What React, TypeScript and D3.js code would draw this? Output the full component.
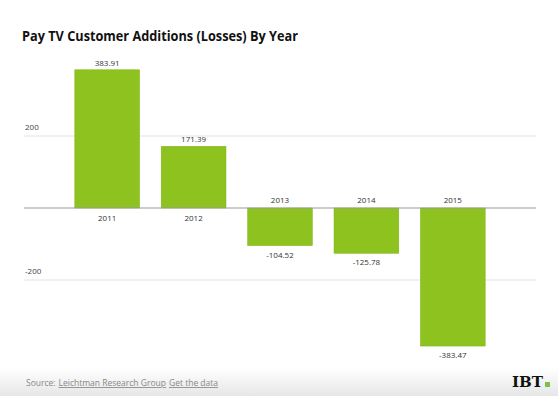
import React, { useRef, useEffect } from 'react';
import { select, scaleLinear, scaleBand } from "d3";

const years = ['2011', '2012', '2013', '2014', '2015'];
const additions = [383.91, 171.39, -104.52, -125.78, -383.47];
const yTicks = [200, -200];
const sourceParts = [
  { text: 'Source:', link: false },
  { text: 'Leichtman Research Group', link: true },
  { text: 'Get the data', link: true },
];

function App() {
  const rootRef = useRef<SVGSVGElement>(null);
  const width = 558;
  const height = 396;
  const margin = { left: 24, right: 22 };

  useEffect(() => {
    const root = select(rootRef.current);
    root.selectAll('*').remove();

    const defs = root.append('defs');
    const grad = defs.append('linearGradient')
      .attr('id', 'footerGrad')
      .attr('x1', 0).attr('y1', 0).attr('x2', 0).attr('y2', 1);
    grad.append('stop').attr('offset', '0%').attr('stop-color', '#ffffff');
    grad.append('stop').attr('offset', '100%').attr('stop-color', '#e6e6e6');

    root.append('rect')
      .attr('width', width).attr('height', height)
      .attr('fill', '#ffffff');

    // title
    root.append('text')
      .attr('x', 22).attr('y', 41)
      .attr('textLength', 276)
      .attr('lengthAdjust', 'spacingAndGlyphs')
      .style('font-family', '"Open Sans", sans-serif')
      .style('font-weight', 700)
      .style('font-size', '14.5px')
      .attr('fill', '#111')
      .text('Pay TV Customer Additions (Losses) By Year');

    const xScale = scaleBand()
      .domain(years)
      .range([64, 496])
      .paddingInner(0.25)
      .paddingOuter(0.125);

    const yScale = scaleLinear()
      .domain([-200, 200])
      .range([280, 136]);

    // gridlines
    const grid = root.append('g');
    grid.selectAll('line')
      .data(yTicks)
      .enter().append('line')
      .attr('x1', margin.left).attr('x2', width - margin.right)
      .attr('y1', d => yScale(d)).attr('y2', d => yScale(d))
      .attr('stroke', '#e4e4e4').attr('stroke-width', 1);
    grid.selectAll('text')
      .data(yTicks)
      .enter().append('text')
      .attr('x', 25).attr('y', d => yScale(d) - 6)
      .style('font-family', '"Open Sans", sans-serif')
      .style('font-size', '8px')
      .attr('fill', '#444')
      .text(d => String(d));

    const bars = root.selectAll('g.bar')
      .data(years.map((y, i) => ({ year: y, value: additions[i] })))
      .enter().append('g').attr('class', 'bar');

    bars.append('rect')
      .attr('x', d => xScale(d.year)!)
      .attr('y', d => yScale(Math.max(0, d.value)))
      .attr('width', xScale.bandwidth())
      .attr('height', d => Math.abs(yScale(d.value) - yScale(0)))
      .attr('fill', '#8dc21f')
      .attr('stroke', '#7fb51a')
      .attr('stroke-width', 0.5);

    // zero line
    root.append('line')
      .attr('x1', margin.left).attr('x2', width - margin.right)
      .attr('y1', yScale(0)).attr('y2', yScale(0))
      .attr('stroke', '#999').attr('stroke-width', 1.2);

    bars.append('text')
      .attr('x', d => xScale(d.year)! + xScale.bandwidth() / 2)
      .attr('y', d => d.value >= 0 ? yScale(d.value) - 4 : yScale(d.value) + 12)
      .attr('text-anchor', 'middle')
      .style('font-family', '"Open Sans", sans-serif')
      .style('font-size', '8px')
      .attr('fill', '#333')
      .text(d => d.value.toFixed(2));

    bars.append('text')
      .attr('x', d => xScale(d.year)! + xScale.bandwidth() / 2)
      .attr('y', d => d.value >= 0 ? yScale(0) + 13 : yScale(0) - 5)
      .attr('text-anchor', 'middle')
      .style('font-family', '"Open Sans", sans-serif')
      .style('font-size', '8px')
      .attr('fill', '#333')
      .text(d => d.year);

    // footer
    root.append('rect')
      .attr('x', 0).attr('y', 368)
      .attr('width', width).attr('height', height - 368)
      .attr('fill', 'url(#footerGrad)');

    let sx = 26;
    sourceParts.forEach(p => {
      const t = root.append('text')
        .attr('x', sx).attr('y', 386)
        .style('font-family', '"Open Sans", sans-serif')
        .style('font-size', '8.5px')
        .attr('fill', '#888')
        .attr('text-decoration', p.link ? 'underline' : null)
        .text(p.text);
      const node = t.node() as SVGTextElement;
      sx += node.getComputedTextLength() + 3;
    });

    root.append('text')
      .attr('x', 512).attr('y', 387)
      .attr('textLength', 31)
      .attr('lengthAdjust', 'spacingAndGlyphs')
      .style('font-family', '"DejaVu Serif", serif')
      .style('font-weight', 700)
      .style('font-size', '15px')
      .attr('fill', '#111')
      .text('IBT');
    root.append('rect')
      .attr('x', 545).attr('y', 382)
      .attr('width', 5).attr('height', 5)
      .attr('fill', '#7cc242');
  });

  return (
    <div style={{ position: 'fixed', top: 0, left: 0 }}>
      <svg ref={rootRef} width={width} height={height} style={{ display: 'block' }}></svg>
    </div>
  );
}

export default App;
